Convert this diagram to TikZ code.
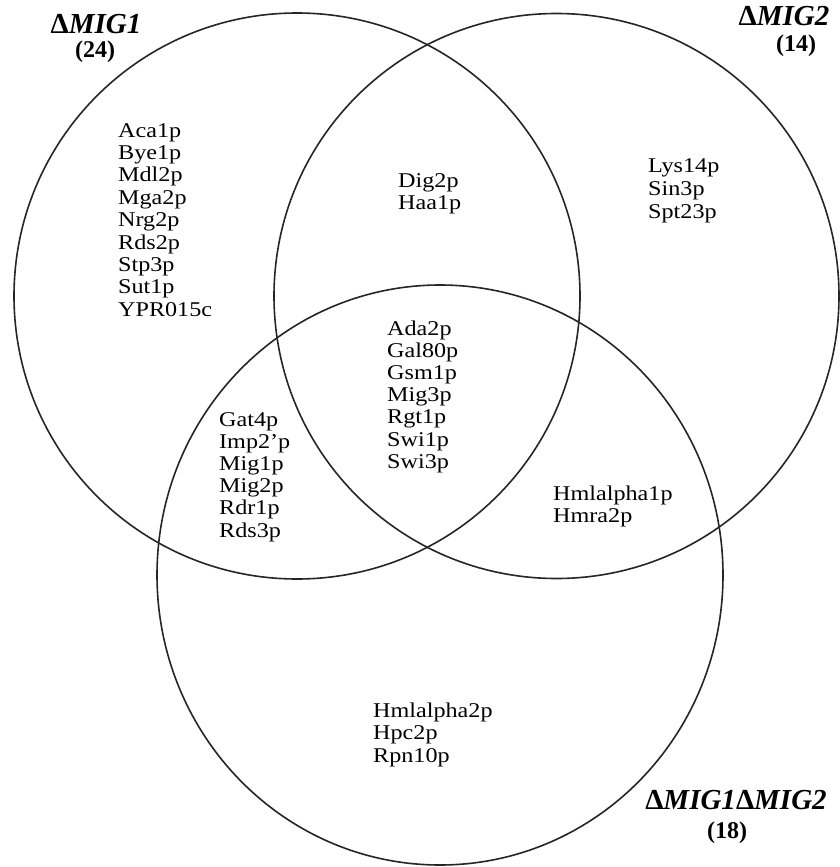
\documentclass[tikz,border=0pt]{standalone}
\usepackage{fontspec}
\setmainfont{Liberation Serif}
\newfontfamily\bodyfont[FakeStretch=1.15]{Liberation Serif}
\newcommand{\updelta}{{\upshape Δ}}
\begin{document}
\begin{tikzpicture}[x=1pt,y=-1pt,
  ring/.style={draw=black!85,line width=1.6pt},
  lbl/.style={anchor=base west,inner sep=0pt,font=\bodyfont\fontsize{21}{22}\selectfont},
  ttl/.style={anchor=base,inner sep=0pt,font=\fontsize{29}{30}\selectfont\bfseries\itshape},
  cnt/.style={anchor=base,inner sep=0pt,font=\fontsize{24}{26}\selectfont\bfseries}]
\useasboundingbox (0,0) rectangle (839,867);
\fill[white] (0,0) rectangle (839,867);
\draw[ring] (297,296) circle[radius=283];
\draw[ring] (556.5,296) circle[radius=282.5];
\draw[ring] (440,575) ellipse[x radius=283,y radius=290];
% titles
\node[ttl] (t1) at (96,34) {\updelta MIG1};
\node[cnt] (c1) at (95,58) {(24)};
\node[ttl] (t2) at (784,26) {\updelta MIG2};
\node[cnt] (c2) at (796,52) {(14)};
\node[ttl] (t3) at (736,809) {\updelta MIG1\updelta MIG2};
\node[cnt] (c3) at (727,838) {(18)};
% lists
\foreach \t [count=\i] in {Aca1p,Bye1p,Mdl2p,Mga2p,Nrg2p,Rds2p,Stp3p,Sut1p,YPR015c}
  \node[lbl] (a\i) at (118,137+22.4*\i-22.4) {\t};
\foreach \t [count=\i] in {Dig2p,Haa1p}
  \node[lbl] (b\i) at (398,187+22.6*\i-22.6) {\t};
\foreach \t [count=\i] in {Lys14p,Sin3p,Spt23p}
  \node[lbl] (c\i) at (648,172+23*\i-23) {\t};
\foreach \t [count=\i] in {Ada2p,Gal80p,Gsm1p,Mig3p,Rgt1p,Swi1p,Swi3p}
  \node[lbl] (d\i) at (387,335+22.2*\i-22.2) {\t};
\foreach \t [count=\i] in {Gat4p,Imp2’p,Mig1p,Mig2p,Rdr1p,Rds3p}
  \node[lbl] (e\i) at (219,426+22.2*\i-22.2) {\t};
\foreach \t [count=\i] in {Hmlalpha1p,Hmra2p}
  \node[lbl] (f\i) at (553,500+22*\i-22) {\t};
\foreach \t [count=\i] in {Hmlalpha2p,Hpc2p,Rpn10p}
  \node[lbl] (g\i) at (373,717+22.5*\i-22.5) {\t};
\end{tikzpicture}
\end{document}
